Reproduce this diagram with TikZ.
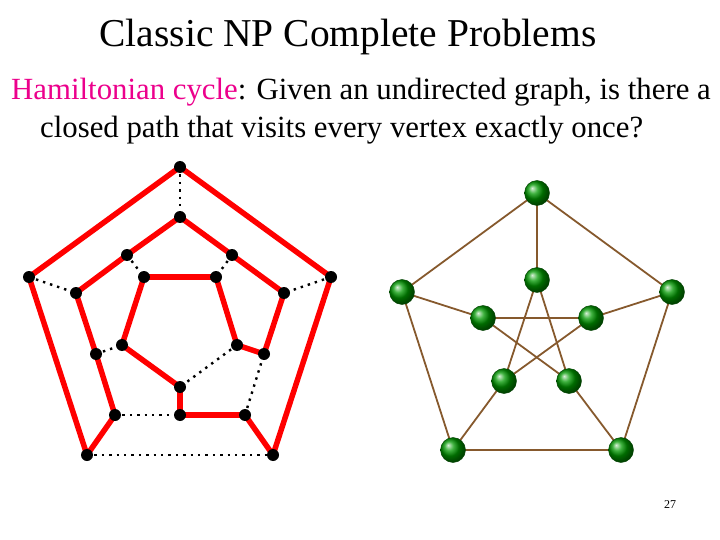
\documentclass[tikz,border=0pt]{standalone}
\usepackage{fontspec}
\setmainfont{Liberation Serif}
\begin{document}
\begin{tikzpicture}[x=1pt,y=-1pt,
 dot/.style={circle,fill=black,inner sep=0pt,minimum size=12pt},
 ball/.style={circle,inner sep=0pt,minimum size=25pt,shading=ball,ball color=green!60!black,draw=green!25!black},
 red/.style={draw=red,line width=5.5pt},
 dot edge/.style={draw=black,line width=2.4pt,dash pattern=on 2.4pt off 5pt},
 pe/.style={draw=brown!70!black,line width=1.8pt}]
\useasboundingbox (0,0) rectangle (720,540);
\node[font=\fontsize{39.5}{44}\selectfont] (title) at (348,37) {Classic NP Complete Problems};
\node[anchor=west,font=\fontsize{30.8}{34}\selectfont,inner sep=0pt] (l1) at (11,92) {\textcolor{magenta}{Hamiltonian cycle}: Given an undirected graph, is there a};
\node[anchor=west,font=\fontsize{30.8}{34}\selectfont,inner sep=0pt] (l2) at (40,130) {closed path that visits every vertex exactly once?};
\node[font=\fontsize{12}{14}\selectfont] (pg) at (670,505) {27};
% left dodecahedron
\foreach \n/\x/\y in {O1/180/167,O2/29/277,O3/331/277,O4/87/455,O5/273/455,
 M1/180/217,M2/127/255,M3/232/255,M4/76/293,M5/284/293,M6/96/354,M7/264/354,M8/115/415,M9/245/415,M10/180/415,
 I1/144/277,I2/216/277,I3/122/345,I4/237/345,I5/180/387}
 \coordinate (\n) at (\x,\y);
\foreach \a/\b in {O1/O2,O1/O3,O2/O4,O3/O5,O4/M8,O5/M9,M1/M2,M2/M4,M4/M6,M6/M8,M10/M9,M7/M5,M5/M3,M3/M1,I1/I2,I2/I4,I5/I3,I3/I1,M7/I4,M10/I5}
 \draw[red] (\a) -- (\b);
\foreach \a/\b in {O4/O5,O1/M1,O2/M4,O3/M5,M8/M10,M9/M7,M2/I1,M3/I2,M6/I3,I4/I5}
 \draw[dot edge] (\a) -- (\b);
\foreach \n in {O1,O2,O3,O4,O5,M1,M2,M3,M4,M5,M6,M7,M8,M9,M10,I1,I2,I3,I4,I5}
 \node[dot] (d\n) at (\n) {};
% Petersen
\foreach \n/\x/\y in {A/537/193,B/402/292,C/672/292,D/453/450,E/621/450,
 a/537/280,b/483/318,c/591/318,d/504/381,e/569/381}
 \coordinate (\n) at (\x,\y);
\foreach \p/\q in {A/B,A/C,B/D,C/E,D/E,A/a,B/b,C/c,D/d,E/e,a/d,a/e,b/c,b/e,c/d}
 \draw[pe] (\p) -- (\q);
\foreach \n in {A,B,C,D,E,a,b,c,d,e}
 \node[ball] (g\n) at (\n) {};
\end{tikzpicture}
\end{document}
